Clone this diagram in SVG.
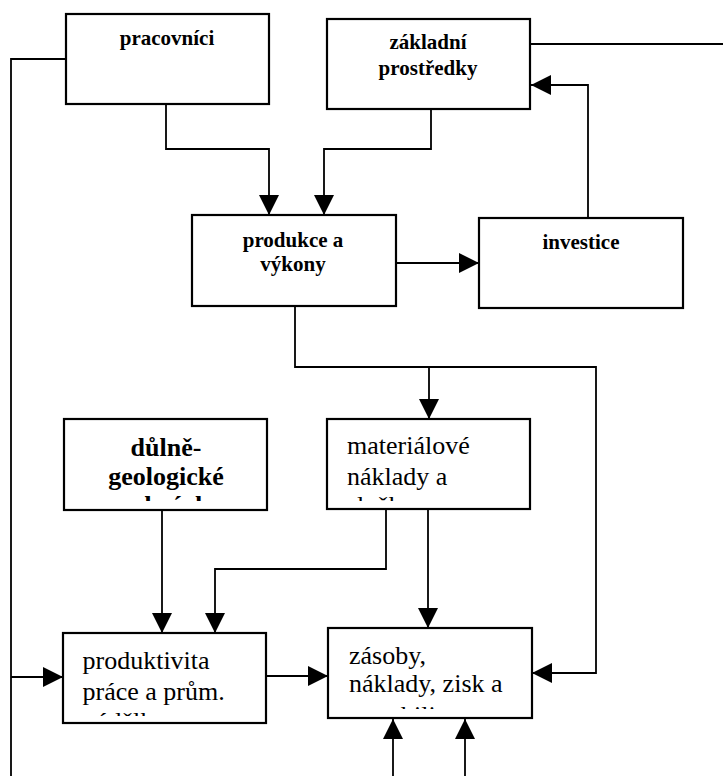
<svg xmlns="http://www.w3.org/2000/svg" width="723" height="776" viewBox="0 0 723 776">
<style>
.box{fill:#fff;stroke:#000;stroke-width:2.2}
.ln{fill:none;stroke:#000;stroke-width:1.8}
text{font-family:'Liberation Serif','DejaVu Serif',serif;fill:#000}
.b21{font-weight:bold;font-size:21px;text-anchor:middle}
.b26{font-weight:bold;font-size:26px;text-anchor:middle}
.r26{font-size:26px}
</style>
<defs>
<marker id="ah" markerUnits="userSpaceOnUse" markerWidth="20" markerHeight="20" refX="20" refY="10" orient="auto">
<path d="M0,0 L20,10 L0,20 z" fill="#000"/>
</marker>
<clipPath id="c1"><rect x="60" y="410" width="220" height="91"/></clipPath>
<clipPath id="c2"><rect x="320" y="410" width="220" height="91"/></clipPath>
<clipPath id="c3"><rect x="60" y="620" width="220" height="96"/></clipPath>
<clipPath id="c4"><rect x="320" y="620" width="220" height="89"/></clipPath>
</defs>
<rect width="723" height="776" fill="#fff"/>
<g id="connectors">
<polyline class="ln" points="66,59 11,59 11,776"/>
<line class="ln" x1="11" y1="677" x2="63" y2="677" marker-end="url(#ah)"/>
<line class="ln" x1="530" y1="44" x2="723" y2="44"/>
<polyline class="ln" points="166,105 166,149 269,149 269,215" marker-end="url(#ah)"/>
<polyline class="ln" points="431,109 431,149 324,149 324,215" marker-end="url(#ah)"/>
<polyline class="ln" points="588,218 588,85 531,85" marker-end="url(#ah)"/>
<line class="ln" x1="396" y1="263" x2="479" y2="263" marker-end="url(#ah)"/>
<polyline class="ln" points="295,306 295,367 596,367 596,673 532,673" marker-end="url(#ah)"/>
<line class="ln" x1="429" y1="367" x2="429" y2="419" marker-end="url(#ah)"/>
<line class="ln" x1="162" y1="510" x2="162" y2="633" marker-end="url(#ah)"/>
<polyline class="ln" points="386,510 386,569 215,569 215,633" marker-end="url(#ah)"/>
<line class="ln" x1="428" y1="510" x2="428" y2="628" marker-end="url(#ah)"/>
<line class="ln" x1="266" y1="676" x2="328" y2="676" marker-end="url(#ah)"/>
<line class="ln" x1="393" y1="776" x2="393" y2="719" marker-end="url(#ah)"/>
<line class="ln" x1="465" y1="776" x2="465" y2="719" marker-end="url(#ah)"/>
</g>
<g id="pracovnici">
<rect class="box" x="66" y="14" width="203" height="90"/>
<text class="b21" x="167" y="45">pracovníci</text>
</g>
<g id="zakladni-prostredky">
<rect class="box" x="327" y="19" width="203" height="90"/>
<text class="b21" x="428" y="49">základní</text>
<text class="b21" x="428" y="75">prostředky</text>
</g>
<g id="produkce-a-vykony">
<rect class="box" x="192" y="215" width="204" height="91"/>
<text class="b21" x="293" y="247">produkce a</text>
<text class="b21" x="293" y="271">výkony</text>
</g>
<g id="investice">
<rect class="box" x="479" y="218" width="204" height="90"/>
<text class="b21" x="581" y="249">investice</text>
</g>
<g id="dulne-geologicke">
<rect class="box" x="64" y="419" width="203" height="91"/>
<text class="b26" x="166" y="456">důlně-</text>
<text class="b26" x="166" y="485">geologické</text>
<text class="b26" x="166" y="514" clip-path="url(#c1)">podmínky</text>
</g>
<g id="materialove-naklady">
<rect class="box" x="327" y="419" width="203" height="90"/>
<text class="r26" x="347" y="454">materiálové</text>
<text class="r26" x="347" y="484.5">náklady a</text>
<text class="r26" x="347" y="514" clip-path="url(#c2)">služby</text>
</g>
<g id="produktivita">
<rect class="box" x="63" y="633" width="203" height="90"/>
<text class="r26" x="82.5" y="669">produktivita</text>
<text class="r26" x="82.5" y="700">práce a prům.</text>
<text class="r26" x="82.5" y="729.5" clip-path="url(#c3)">výdělky</text>
</g>
<g id="zasoby">
<rect class="box" x="328" y="628" width="204" height="90"/>
<text class="r26" x="349" y="663.5">zásoby,</text>
<text class="r26" x="349" y="692">náklady, zisk a</text>
<text class="r26" x="349" y="723.5" clip-path="url(#c4)">rentabilita</text>
</g>
</svg>
